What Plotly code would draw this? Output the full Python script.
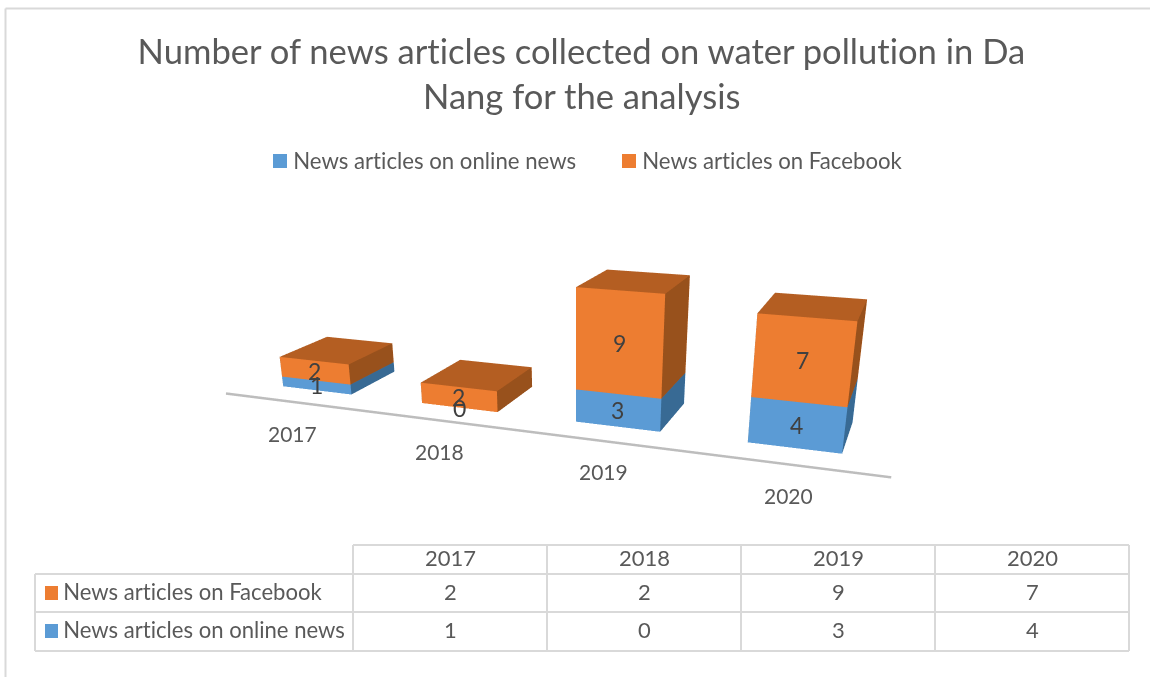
import plotly.graph_objects as go

# ---- data ----
years = ["2017", "2018", "2019", "2020"]
online_news = [1, 0, 3, 4]
facebook = [2, 2, 9, 7]
name_online = "News articles on online news"
name_facebook = "News articles on Facebook"
title_lines = ["Number of news articles collected on water pollution in Da", "Nang for the analysis"]

# ---- style ----
FONT = "Lato"
TXT = "#595959"
GRID = "#D9D9D9"
ORANGE = dict(front="#ED7D31", top="#B45E22", side="#98511C")
BLUE = dict(front="#5B9BD5", top="#4A7FB0", side="#386A94")
W, H = 1150, 677


def px(x):
    return x / W


def py(y):
    return 1 - y / H


# ---- 3D scene geometry (bars sit on a sheared floor) ----
HALF_W = 0.252
DEPTH = 0.225
SHEAR = 0.15
X0, XS = -1.778, 0.492
X_LO, X_HI = -0.6, 3.6
Y_LO, Y_HI = 1.7, 2.4
Z_MAX = 13
K = 0.5


def world_x(x):
    return X0 + XS * x


def front_y(x):
    return 1.890 + SHEAR * (world_x(x) + 1.656)


def add_box(store, i, z0, z1, pal):
    xs = [i - HALF_W, i + HALF_W]
    verts = []
    for z in (z0, z1):
        for d in (0, DEPTH):
            for x in xs:
                verts.append((x, front_y(x) + d, z))
    n = len(store["x"])
    for v in verts:
        store["x"].append(v[0])
        store["y"].append(v[1])
        store["z"].append(v[2])
    # vertex order: (x, d, z) -> index = ix + 2*id + 4*iz
    faces = [
        ((0, 1, 5), pal["front"]), ((0, 5, 4), pal["front"]),
        ((1, 3, 7), pal["side"]), ((1, 7, 5), pal["side"]),
        ((4, 5, 7), pal["top"]), ((4, 7, 6), pal["top"]),
        ((0, 2, 6), pal["side"]), ((0, 6, 4), pal["side"]),
        ((2, 3, 7), pal["front"]), ((2, 7, 6), pal["front"]),
    ]
    for (a, b, c), col in faces:
        store["i"].append(n + a)
        store["j"].append(n + b)
        store["k"].append(n + c)
        store["c"].append(col)


fig = go.Figure()


def mesh_for(name, bases, values, pal):
    s = dict(x=[], y=[], z=[], i=[], j=[], k=[], c=[])
    for idx, (b, v) in enumerate(zip(bases, values)):
        if v > 0:
            add_box(s, idx, b, b + v, pal)
    fig.add_trace(go.Mesh3d(
        x=s["x"], y=s["y"], z=s["z"], i=s["i"], j=s["j"], k=s["k"],
        facecolor=s["c"], flatshading=True, name=name, hoverinfo="skip",
        lighting=dict(ambient=1, diffuse=0, specular=0, roughness=1, fresnel=0),
    ))


mesh_for(name_online, [0] * 4, online_news, BLUE)
mesh_for(name_facebook, online_news, facebook, ORANGE)

axis_x = [-0.5, len(years) - 0.48]
fig.add_trace(go.Scatter3d(
    x=axis_x, y=[front_y(x) - 0.105 for x in axis_x], z=[0, 0],
    mode="lines", line=dict(color="#BDBDBD", width=5), hoverinfo="skip", showlegend=False,
))

# value labels in the scene
scene_ann = []
for idx in range(len(years)):
    for base, v in ((0, online_news[idx]), (online_news[idx], facebook[idx])):
        scene_ann.append(dict(
            x=idx, y=front_y(idx), z=base + v / 2, text=str(v), showarrow=False,
            font=dict(family=FONT, size=23, color="#404040"),
        ))

# camera (looks from right of the chart, from above)
cx = world_x(1.5)
cy = (Y_LO + Y_HI) / 2
cz = Z_MAX * 0.0341 / 2
eye = dict(x=K * (0 - cx), y=K * (0 - cy), z=K * (1 - cz))
s = 2.4
center = dict(x=K * (s * -0.396 - cx), y=K * (s * 0.860 - cy), z=K * (1 - s * 0.319 - cz))

hidden = dict(visible=False, showgrid=False, zeroline=False, showbackground=False)
fig.update_layout(
    width=W, height=H, margin=dict(l=0, r=0, t=0, b=0),
    paper_bgcolor="white", showlegend=False,
    scene=dict(
        domain=dict(x=[0, 1], y=[0, 1]),
        xaxis=dict(range=[X_LO, X_HI], **hidden),
        yaxis=dict(range=[Y_LO, Y_HI], **hidden),
        zaxis=dict(range=[0, Z_MAX], **hidden),
        aspectmode="manual",
        aspectratio=dict(x=K * XS * (X_HI - X_LO), y=K * (Y_HI - Y_LO), z=K * Z_MAX * 0.0341),
        camera=dict(eye=eye, center=center, up=dict(x=0, y=0, z=1),
                    projection=dict(type="perspective")),
        annotations=scene_ann,
        bgcolor="rgba(0,0,0,0)",
    ),
)

ann = []
shapes = []


def text(x, y, t, size, anchor="center"):
    ann.append(dict(x=px(x), y=py(y), xref="paper", yref="paper", text=t, showarrow=False,
                    xanchor=anchor, yanchor="middle",
                    font=dict(family=FONT, size=size, color=TXT)))


def line(x0, y0, x1, y1, w=2, col=GRID):
    shapes.append(dict(type="line", xref="paper", yref="paper", x0=px(x0), y0=py(y0),
                       x1=px(x1), y1=py(y1), line=dict(color=col, width=w)))


def swatch(x0, y0, x1, y1, col):
    shapes.append(dict(type="rect", xref="paper", yref="paper", x0=px(x0), y0=py(y0),
                       x1=px(x1), y1=py(y1), fillcolor=col, line=dict(width=0)))


# frame
line(5.5, 8.5, 5.5, 677)
line(5.5, 8.5, 1150, 8.5)

# title
text(581, 50, title_lines[0], 34.6)
text(581, 95, title_lines[1], 34.6)

# legend
swatch(273, 154, 287, 168, BLUE["front"])
text(291, 160, name_online, 22.2, "left")
swatch(622, 154, 636, 168, ORANGE["front"])
text(640, 160, name_facebook, 22.2, "left")

# category labels under the axis
for yr, (lx, ly) in zip(years, [(292, 433.5), (439, 451.5), (603, 471.5), (788, 495.5)]):
    text(lx, ly, yr, 21)

# data table
col_x = [353, 547, 741, 935, 1129]
for cx_ in col_x:
    line(cx_, 545, cx_, 651)
line(35, 574, 35, 651)
line(353, 545, 1129, 545)
for y_ in (574, 612, 651):
    line(35, y_, 1129, y_)
swatch(45, 586, 58, 600, ORANGE["front"])
swatch(45, 624, 58, 638, BLUE["front"])
text(61, 591, name_facebook, 22.1, "left")
text(61, 629, name_online, 22.1, "left")
for c, yr in enumerate(years):
    mid = (col_x[c] + col_x[c + 1]) / 2
    text(mid, 557, yr, 22)
    text(mid, 591, str(facebook[c]), 22)
    text(mid, 629, str(online_news[c]), 22)

fig.update_layout(annotations=ann, shapes=shapes)
post = ("document.body.style.margin='0';"
        "var st=document.createElement('style');"
        "st.textContent='text{font-variant-ligatures:none!important;"
        "font-feature-settings:\"liga\" 0,\"clig\" 0!important}';"
        "document.head.appendChild(st);")
fig.write_html("out.html", config=dict(displayModeBar=False), post_script=post)
